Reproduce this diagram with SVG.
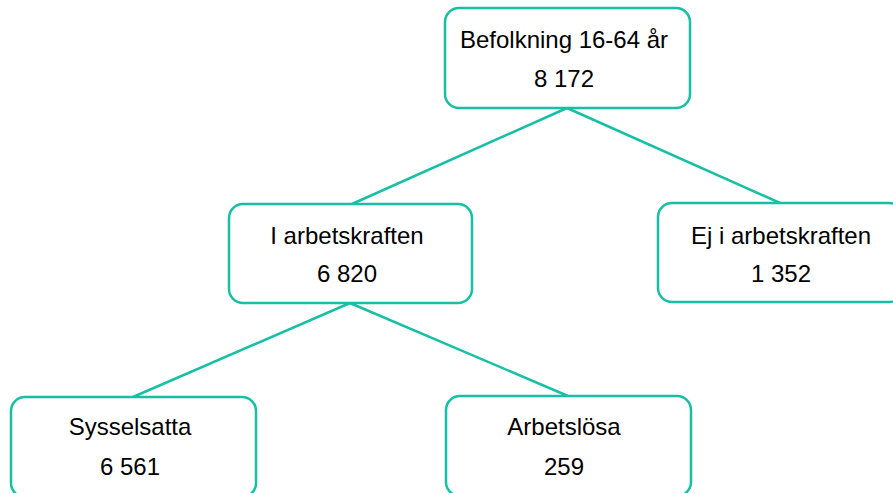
<svg xmlns="http://www.w3.org/2000/svg" width="893" height="493" viewBox="0 0 893 493">
<style>
.box{fill:#ffffff;stroke:#17BFA5;stroke-width:2.5}
.edge{stroke:#17BFA5;stroke-width:2.5;fill:none}
text{font-family:"Liberation Sans",Arial,sans-serif;font-size:24px;fill:#000000;text-anchor:middle}
</style>
<rect width="893" height="493" fill="#ffffff"/>
<g id="connectors">
<line class="edge" x1="567" y1="108" x2="352" y2="204"/>
<line class="edge" x1="567" y1="108" x2="780" y2="203"/>
<line class="edge" x1="350" y1="303" x2="133" y2="397"/>
<line class="edge" x1="350" y1="303" x2="568" y2="396"/>
</g>
<g id="node-befolkning">
<rect class="box" x="445" y="8" width="245" height="100" rx="14"/>
<text x="564" y="48">Befolkning 16-64 år</text>
<text x="564" y="87">8 172</text>
</g>
<g id="node-i-arbetskraften">
<rect class="box" x="229" y="204" width="243" height="99" rx="14"/>
<text x="347" y="243.5">I arbetskraften</text>
<text x="347" y="282">6 820</text>
</g>
<g id="node-ej-i-arbetskraften">
<rect class="box" x="658" y="203" width="245" height="99" rx="14"/>
<text x="781" y="243.5">Ej i arbetskraften</text>
<text x="781" y="282">1 352</text>
</g>
<g id="node-sysselsatta">
<rect class="box" x="11" y="397" width="245" height="100" rx="14"/>
<text x="130" y="435">Sysselsatta</text>
<text x="130" y="475">6 561</text>
</g>
<g id="node-arbetslosa">
<rect class="box" x="446" y="396" width="245" height="100" rx="14"/>
<text x="564" y="435">Arbetslösa</text>
<text x="564" y="475">259</text>
</g>
</svg>
